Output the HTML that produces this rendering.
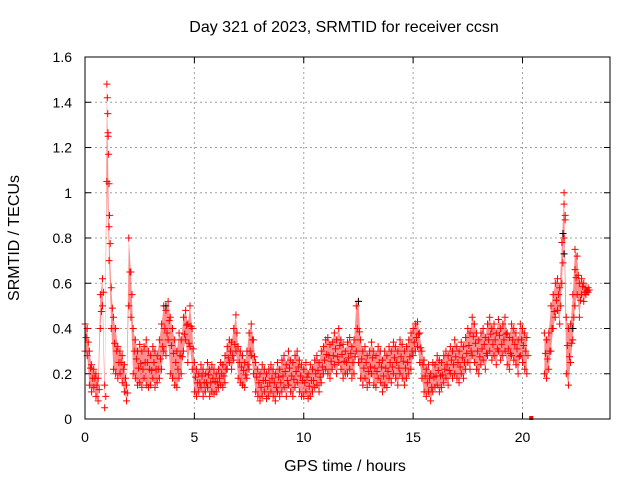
<!DOCTYPE html>
<html><head><meta charset="utf-8"><style>
body{margin:0;background:#fff;}
svg text{font-family:"Liberation Sans",sans-serif;font-size:14px;fill:#000;}
svg text.big{font-size:16px;}
</style></head><body>
<svg id="chart" width="640" height="480" xmlns="http://www.w3.org/2000/svg">
<rect width="640" height="480" fill="#fff"/>
<text class="big" x="344" y="32" text-anchor="middle">Day 321 of 2023, SRMTID for receiver ccsn</text>
<text class="big" transform="translate(19,238) rotate(-90)" text-anchor="middle">SRMTID / TECUs</text>
<text class="big" x="345" y="471" text-anchor="middle">GPS time / hours</text>
<g id="grid"></g>
<g id="ticks"></g>
<g id="marks"></g>
<rect x="85" y="57" width="525" height="362" fill="none" stroke="#000" stroke-width="1"/>
</svg>
<script>
const xTicks=[0,5,10,15,20];
const yTicks=[0,0.2,0.4,0.6,0.8,1,1.2,1.4,1.6];
const yTickLabels=["0","0.2","0.4","0.6","0.8","1","1.2","1.4","1.6"];
const tStart=0, tStep=0.1;
const highVals=[.42,.40,.30,.24,.22,.20,.18,.55,.62,.15,
1.48,.85,.58,.45,.40,.32,.30,.28,.24,.15,
.80,.65,.40,.35,.30,.33,.30,.32,.35,.30,
.28,.32,.30,.28,.35,.42,.50,.48,.52,.45,
.40,.35,.30,.38,.35,.45,.48,.42,.50,.40,
.25,.22,.20,.24,.22,.20,.25,.22,.24,.22,
.20,.22,.25,.24,.28,.32,.35,.34,.40,.46,
.32,.30,.28,.25,.30,.38,.42,.35,.25,.22,
.20,.24,.22,.20,.22,.24,.22,.20,.25,.22,
.26,.28,.24,.30,.26,.25,.28,.30,.26,.24,
.22,.25,.20,.24,.22,.26,.28,.25,.30,.32,
.35,.36,.33,.34,.38,.35,.40,.35,.33,.30,
.34,.36,.32,.35,.50,.52,.35,.30,.32,.28,
.30,.34,.30,.28,.32,.30,.26,.30,.28,.32,
.30,.34,.32,.30,.35,.33,.30,.32,.35,.38,
.40,.42,.43,.38,.30,.26,.22,.24,.20,.25,
.24,.28,.26,.25,.28,.30,.28,.32,.30,.35,
.32,.30,.34,.32,.36,.40,.38,.45,.42,.38,
.35,.38,.40,.36,.42,.45,.40,.42,.38,.44,
.40,.42,.45,.38,.36,.42,.40,.38,.35,.42,
.40,.38,.36,null,null,null,null,null,null,null,
.38,.35,.38,.50,.55,.60,.62,.58,.78,1.0,
.45,.40,.42,.55,.75,.72,.60,.62,.60,.58,.58];
const lowVals=[.30,.28,.15,.12,.14,.10,.08,.40,.50,.05,
1.05,.70,.40,.22,.20,.18,.20,.16,.12,.08,
.50,.45,.20,.18,.15,.16,.14,.18,.15,.14,
.15,.18,.14,.16,.18,.22,.30,.28,.35,.20,
.18,.15,.14,.18,.20,.30,.35,.25,.32,.22,
.12,.10,.12,.14,.10,.12,.14,.10,.12,.11,
.12,.14,.15,.14,.16,.22,.25,.22,.26,.30,
.18,.16,.15,.14,.18,.22,.28,.20,.12,.10,
.08,.10,.12,.09,.10,.12,.10,.08,.12,.10,
.12,.14,.10,.15,.12,.10,.14,.16,.12,.10,
.10,.12,.09,.10,.12,.14,.15,.12,.16,.20,
.22,.20,.18,.22,.24,.20,.25,.22,.18,.20,
.20,.22,.18,.20,.30,.25,.18,.15,.18,.14,
.16,.20,.15,.14,.18,.16,.12,.15,.14,.18,
.16,.20,.18,.15,.20,.18,.15,.18,.20,.22,
.28,.30,.32,.25,.18,.12,.10,.12,.08,.12,
.14,.15,.12,.14,.16,.18,.15,.20,.18,.20,
.18,.16,.20,.18,.22,.25,.22,.28,.25,.22,
.20,.24,.26,.22,.28,.30,.26,.28,.24,.30,
.26,.28,.30,.24,.22,.28,.26,.24,.20,.28,
.25,.22,.20,null,null,null,null,null,null,null,
.20,.18,.22,.30,.40,.45,.48,.42,.60,.80,
.20,.15,.25,.35,.50,.55,.45,.55,.52,.55,.56];
const spikeTimes=[1.02,1.04,1.06,1.08,1.1,1.12,21.9,21.95,22.4];
const spikeVals=[1.42,1.35,1.25,1.17,1.04,0.9,0.95,0.88,0.66];
const blackTimes=[12.5,21.85,21.9,22.3,3.7];
const blackVals=[0.52,0.82,0.73,0.4,0.5];
const outlierTimes=[20.4];
const outlierVals=[0];

const X=t=>85+t*525/24, Y=v=>419-v*362/1.6;
const NS="http://www.w3.org/2000/svg";
const grid=document.getElementById('grid'),ticks=document.getElementById('ticks'),marks=document.getElementById('marks');
function mk(tag,attrs,parent){const e=document.createElementNS(NS,tag);for(const k in attrs)e.setAttribute(k,attrs[k]);parent.appendChild(e);return e;}
yTicks.forEach((v,i)=>{
 if(i>0&&i<yTicks.length-1){const g=mk('line',{x1:85,x2:610,y1:Y(v),y2:Y(v),stroke:'#a0a0a0','stroke-dasharray':'2,3'},grid);
 
 }
 mk('line',{x1:85,x2:91,y1:Y(v),y2:Y(v),stroke:'#000'},grid);
 mk('line',{x1:604,x2:610,y1:Y(v),y2:Y(v),stroke:'#000'},grid);
 const t=mk('text',{x:72,y:Y(v)+5,'text-anchor':'end'},ticks);t.textContent=yTickLabels[i];
 
 
});
xTicks.forEach(v=>{
 if(v>0){const g=mk('line',{x1:X(v),x2:X(v),y1:57,y2:419,stroke:'#a0a0a0','stroke-dasharray':'2,3'},grid);
 
 }
 mk('line',{x1:X(v),x2:X(v),y1:419,y2:413,stroke:'#000'},grid);
 mk('line',{x1:X(v),x2:X(v),y1:57,y2:63,stroke:'#000'},grid);
 const t=mk('text',{x:X(v),y:442,'text-anchor':'middle'},ticks);t.textContent=String(v);
 
 
});
function plus(t,v,col,name){
 const x=X(t),y=Y(v);
 const p=mk('path',{d:`M${x-3.5},${y}h7M${x},${y-3.5}v7`,stroke:col,'stroke-width':1,fill:'none'},marks);
 
 
}
highVals.forEach((h,i)=>{
 const l=lowVals[i];if(h==null||l==null)return;
 const t=tStart+i*tStep;
 const nh=highVals[i+1],nl=lowVals[i+1];
 const t2=t+tStep;
 if(nh!=null&&nl!=null&&i+1<highVals.length){
  const band=mk('polygon',{points:`${X(t)},${Y(h)} ${X(t2)},${Y(nh)} ${X(t2)},${Y(nl)} ${X(t)},${Y(l)}`,fill:'#ff0000','fill-opacity':0.45,stroke:'none'},marks);
  
  
 }
 plus(t,h,'#ff0000','srmtid-point-high');
 plus(t,l,'#ff0000','srmtid-point-low');
 plus(t+0.05,(h+l)/2,'#ff0000','srmtid-point-mid');
});
blackTimes.forEach((t,i)=>plus(t,blackVals[i],'#000','reference-point'));
spikeTimes.forEach((t,i)=>plus(t,spikeVals[i],'#ff0000','srmtid-spike-point'));
outlierTimes.forEach((t,i)=>{const r=mk('rect',{x:X(t)-2,y:Y(outlierVals[i])-3,width:4,height:4,fill:'#ff0000'},marks);
 
 });
</script>
</body></html>
